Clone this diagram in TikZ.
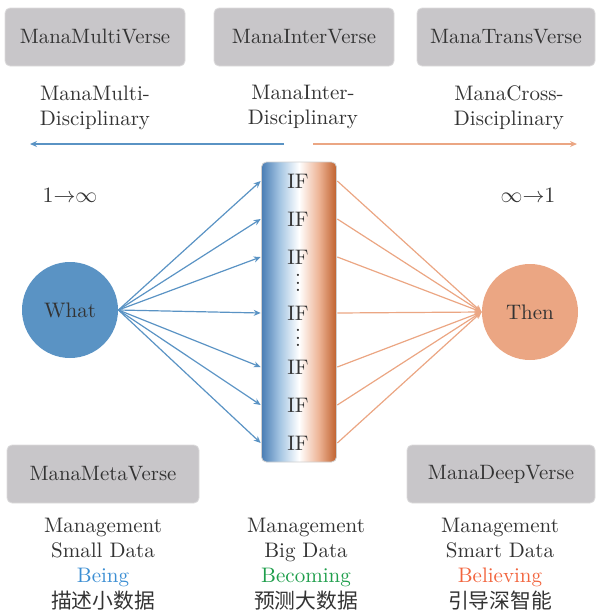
\documentclass[tikz,border=0pt]{standalone}
\usepackage{fontspec}
\newfontfamily\cjk{Noto Sans CJK SC}
\usetikzlibrary{arrows.meta}
\definecolor{txt}{HTML}{333333}
\definecolor{boxg}{HTML}{C8C6C9}
\definecolor{boxb}{HTML}{DCDBDC}
\definecolor{bl}{HTML}{5A93C4}
\definecolor{og}{HTML}{EBA683}
\definecolor{ifL}{HTML}{4A7DB4}
\definecolor{ifLm}{HTML}{A3C4E2}
\definecolor{ifR}{HTML}{BF612E}
\definecolor{ifRm}{HTML}{EEB597}
\definecolor{barb}{HTML}{CFCFCF}
\definecolor{beingc}{HTML}{3B8ED3}
\definecolor{becomingc}{HTML}{1E9E4B}
\definecolor{believingc}{HTML}{F2643D}
\pgfdeclarehorizontalshading{ifbar}{100bp}{color(0bp)=(ifL); color(25bp)=(ifL); color(37bp)=(ifLm); color(50bp)=(white); color(63bp)=(ifRm); color(75bp)=(ifR); color(100bp)=(ifR)}
\newcommand{\mydots}{\vbox{\baselineskip=3.8pt\lineskiplimit=-10pt\hbox{.}\hbox{.}\hbox{.}}}
\begin{document}
\begin{tikzpicture}[x=1pt,y=-1pt,
  lbl/.style={scale=2, text=txt, inner sep=0pt, font=\fontsize{10.5}{12.6}\selectfont},
  verse/.style={scale=2, text=txt, fill=boxg, draw=boxb, line width=0.8pt, rounded corners=5pt, minimum height=29pt, inner sep=0pt, font=\fontsize{10.4}{12.5}\selectfont},
  ball/.style={scale=2, circle, text=txt, minimum size=48pt, inner sep=0pt, font=\fontsize{10.5}{12.5}\selectfont},
  bluearrow/.style={draw=bl, line width=1.2pt, -{Stealth[length=7pt,width=6pt]}},
  orangearrow/.style={draw=og, line width=1.2pt, -{Stealth[length=7pt,width=6pt]}},
  toparrow/.style={line width=2pt, -{Stealth[length=7pt,width=6pt]}}]
\useasboundingbox (0,0) rectangle (596,614);

% top boxes
\node[verse, minimum width=90pt] (multi) at (95,37) {ManaMultiVerse};
\node[verse, minimum width=90pt] (inter) at (304,37) {ManaInterVerse};
\node[verse, minimum width=89pt] (trans) at (506,37) {ManaTransVerse};

% discipline labels
\node[lbl, align=center] (dmulti) at (95,108) {ManaMulti-\\Disciplinary};
\node[lbl, align=center] (dinter) at (303,107) {ManaInter-\\Disciplinary};
\node[lbl, align=center] (dcross) at (509,108) {ManaCross-\\Disciplinary};

% top arrows
\coordinate (lstart) at (284,144);
\coordinate (lend) at (30,144);
\coordinate (rstart) at (313,144);
\coordinate (rend) at (577,144);
\draw[toparrow, bl] (lstart) -- (lend);
\draw[toparrow, og] (rstart) -- (rend);

% cardinalities
\node[lbl] (onemany) at (70,195) {$1{\rightarrow}\infty$};
\node[lbl] (manyone) at (528,195) {$\infty{\rightarrow}1$};

% circles
\node[ball, fill=bl] (what) at (70,310) {What};
\node[ball, fill=og] (then) at (530,312) {Then};

% IF bar
\node[scale=2, shade, shading=ifbar, draw=barb, line width=0.8pt, rounded corners=5pt, minimum width=37.5pt, minimum height=150pt, inner sep=0pt] (bar) at (299,312) {};
\node[lbl] (if1) at (298,181) {IF};
\node[lbl] (if2) at (298,219) {IF};
\node[lbl] (if3) at (298,257) {IF};
\node[lbl] (if4) at (298,313) {IF};
\node[lbl] (if5) at (298,367) {IF};
\node[lbl] (if6) at (298,405) {IF};
\node[lbl] (if7) at (298,443) {IF};
\node[lbl] (dots1) at (298,283) {\mydots};
\node[lbl] (dots2) at (298,338) {\mydots};

% connectors
\foreach \k in {1,...,7}{
  \draw[bluearrow] (what.east) -- (bar.west |- if\k);
  \draw[orangearrow] (bar.east |- if\k) -- (then.west);
}

% bottom boxes
\node[verse, minimum width=96pt] (meta) at (103,474) {ManaMetaVerse};
\node[verse, minimum width=94pt] (deep) at (501,474) {ManaDeepVerse};

% bottom texts
\node[lbl, align=center] (small) at (103,564) {Management\\Small Data\\\textcolor{beingc}{Being}\\{\cjk\fontsize{10.4}{12.6}\selectfont 描述小数据}};
\node[lbl, align=center] (big) at (306,564) {Management\\Big Data\\\textcolor{becomingc}{Becoming}\\{\cjk\fontsize{10.4}{12.6}\selectfont 预测大数据}};
\node[lbl, align=center] (smart) at (500,564) {Management\\Smart Data\\\textcolor{believingc}{Believing}\\{\cjk\fontsize{10.4}{12.6}\selectfont 引导深智能}};
\end{tikzpicture}
\end{document}
